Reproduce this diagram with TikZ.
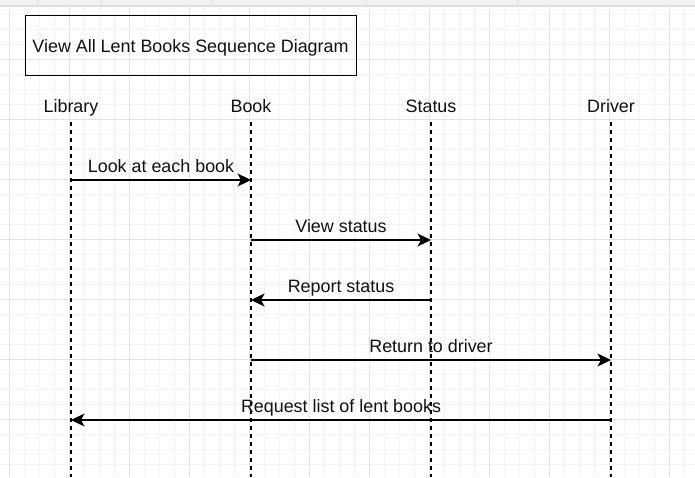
\documentclass[tikz,border=0pt]{standalone}
\usepackage{fontspec}
\setmainfont{Liberation Sans}
\usetikzlibrary{arrows.meta}
\definecolor{gridminor}{HTML}{F4F4F4}
\definecolor{gridmajor}{HTML}{E3E3E3}
\definecolor{stripbg}{HTML}{F2F2F2}
\definecolor{stripline}{HTML}{DEDEDE}
\definecolor{txt}{HTML}{111111}
\tikzset{
  lbl/.style={anchor=base, inner sep=0pt, text=txt, font=\fontsize{17.9}{21}\selectfont},
  titlebox/.style={draw=black, line width=1.3pt, minimum width=331pt, minimum height=60pt, inner sep=0pt, anchor=north west},
  lifeline/.style={draw=black, line width=1.3pt, dash pattern=on 4pt off 4pt},
  msg/.style={draw=black, line width=1.6pt, -{Stealth[length=13.5pt,width=13pt,inset=3.5pt]}},
  msglbl/.style={lbl, midway, yshift=8pt},
}
\begin{document}
\begin{tikzpicture}[x=1pt,y=-1pt]
\useasboundingbox (0,0) rectangle (695,477);
\fill[white] (0,0) rectangle (695,477);
% grid
\foreach \x in {9,24,...,694} \draw[gridminor, line width=1pt] (\x,7) -- (\x,477);
\foreach \y in {14,29,...,476} \draw[gridminor, line width=1pt] (0,\y) -- (695,\y);
\foreach \x in {9,69,...,694} \draw[gridmajor, line width=1pt] (\x,7) -- (\x,477);
\foreach \y in {59,119,...,476} \draw[gridmajor, line width=1pt] (0,\y) -- (695,\y);
% top strip
\fill[stripbg] (0,0) rectangle (695,5);
\fill[stripline] (0,5) rectangle (695,7);
\foreach \x in {37,101,211,366,517} \draw[stripline, line width=0.8pt] (\x,0) -- (\x,5);
% title
\node[titlebox] (title) at (25,15) {};
\node[lbl] (titletext) at (190.5,52) {View All Lent Books Sequence Diagram};
% lifeline heads
\node[lbl] (lib) at (71,112) {Library};
\node[lbl] (book) at (251,112) {Book};
\node[lbl] (status) at (431,112) {Status};
\node[lbl] (driver) at (611,112) {Driver};
% lifelines
\coordinate (libtop) at (71,122);   \coordinate (libbot) at (71,477);
\coordinate (booktop) at (251,122); \coordinate (bookbot) at (251,477);
\coordinate (sttop) at (431,122);   \coordinate (stbot) at (431,477);
\coordinate (drtop) at (611,122);   \coordinate (drbot) at (611,477);
\draw[lifeline] (libtop) -- (libbot);
\draw[lifeline] (booktop) -- (bookbot);
\draw[lifeline] (sttop) -- (stbot);
\draw[lifeline] (drtop) -- (drbot);
% message end points
\coordinate (m1a) at (71,180);  \coordinate (m1b) at (251,180);
\coordinate (m2a) at (251,240); \coordinate (m2b) at (431,240);
\coordinate (m3a) at (431,300); \coordinate (m3b) at (251,300);
\coordinate (m4a) at (251,360); \coordinate (m4b) at (611,360);
\coordinate (m5a) at (611,420); \coordinate (m5b) at (71,420);
% messages
\draw[msg] (m1a) -- node[msglbl] (l1) {Look at each book} (m1b);
\draw[msg] (m2a) -- node[msglbl] (l2) {View status} (m2b);
\draw[msg] (m3a) -- node[msglbl] (l3) {Report status} (m3b);
\draw[msg] (m4a) -- node[msglbl] (l4) {Return to driver} (m4b);
\draw[msg] (m5a) -- node[msglbl] (l5) {Request list of lent books} (m5b);
\end{tikzpicture}
\end{document}
